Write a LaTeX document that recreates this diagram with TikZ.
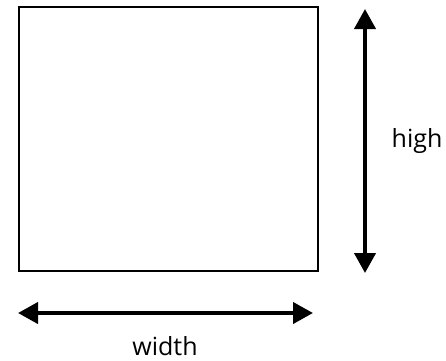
\documentclass[tikz,border=0pt]{standalone}
\usepackage{fontspec}
\setmainfont{Open Sans}
\usetikzlibrary{arrows.meta}
\begin{document}
\begin{tikzpicture}[x=1pt,y=-1pt,
  dimarrow/.style={line width=4pt,{Triangle[length=20pt,width=21pt]}-{Triangle[length=20pt,width=21pt]}},
  lbl/.style={font=\fontsize{25}{30}\selectfont,inner sep=0pt,anchor=base}]
\useasboundingbox (0,0) rectangle (446,360);
\node[draw,line width=2pt,minimum width=299pt,minimum height=264pt,inner sep=0pt] (box) at (168.5,139) {};
\coordinate (vt) at (365,9);
\coordinate (vb) at (365,273);
\coordinate (hl) at (18,313);
\coordinate (hr) at (313,313);
\draw[dimarrow] (vt) -- (vb);
\draw[dimarrow] (hl) -- (hr);
\node[lbl] (high) at (417,147) {high};
\node[lbl] (width) at (165,355) {width};
\end{tikzpicture}
\end{document}
